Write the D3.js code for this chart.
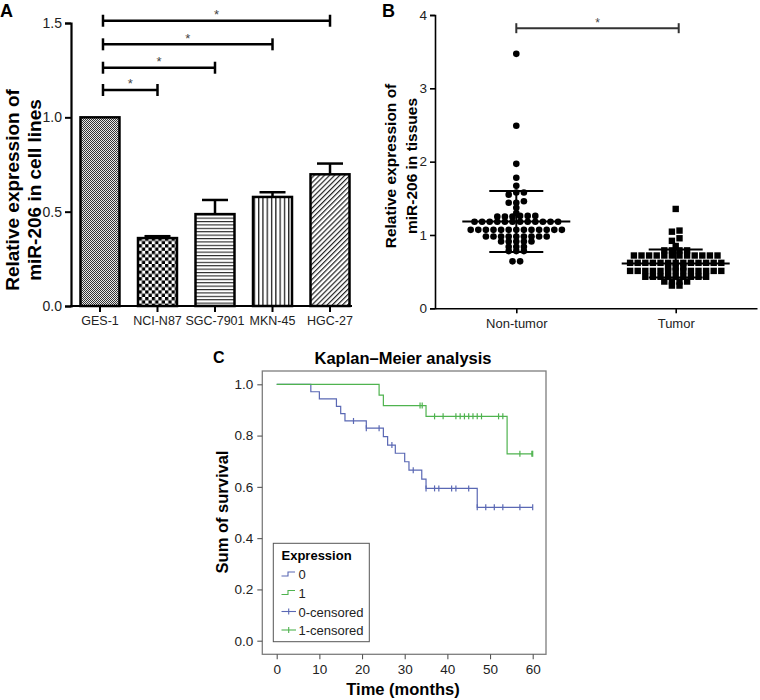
<!DOCTYPE html>
<html>
<head>
<meta charset="utf-8">
<script src="https://cdn.jsdelivr.net/npm/d3@7"></script>
<style>
  html, body { margin: 0; padding: 0; background: #fff; }
  svg { display: block; font-family: "Liberation Sans", Arial, Helvetica, sans-serif; }
</style>
</head>
<body>
<svg id="chart" width="760" height="700"></svg>
<script>
// ---------------- DATA ----------------
// Panel A
const cellLines = ["GES-1", "NCI-N87", "SGC-7901", "MKN-45", "HGC-27"];
const cellMeans = [1.0, 0.36, 0.487, 0.578, 0.698];
const cellErrors = [0, 0.01, 0.075, 0.025, 0.057];
const sigFrom = ["GES-1", "GES-1", "GES-1", "GES-1"];
const sigTo = ["NCI-N87", "SGC-7901", "MKN-45", "HGC-27"];
const sigLevels = [1.145, 1.263, 1.387, 1.512];
const yTicksA = [0, 0.5, 1.0, 1.5];

// Panel B
const tissueGroups = ["Non-tumor", "Tumor"];
const nonTumorValues = [
  3.47, 2.49, 1.97, 1.78, 1.67, 1.58, 1.58, 1.55, 1.46, 1.44, 1.44, 1.37, 1.30,
  1.26, 1.25, 1.26, 1.25, 1.26, 1.25,
  1.18, 1.18, 1.18, 1.18, 1.18, 1.18, 1.18, 1.18, 1.18, 1.18, 1.18, 1.18,
  1.07, 1.07, 1.07, 1.07, 1.07, 1.07, 1.07, 1.07, 1.07, 1.07, 1.07, 1.07, 1.07,
  0.98, 0.98, 0.98, 0.98, 0.98, 0.98, 0.98, 0.98, 0.98,
  0.91, 0.91, 0.91, 0.91, 0.91,
  0.84, 0.84, 0.84, 0.78, 0.78, 0.78, 0.64, 0.64
];
const tumorValues = [
  1.355, 1.06, 1.045, 0.955, 0.92, 0.85, 0.79, 0.79, 0.79, 0.79,
  0.72, 0.72, 0.72, 0.72, 0.72, 0.72, 0.72, 0.72, 0.72, 0.72, 0.72, 0.72,
  0.62, 0.62, 0.62, 0.62, 0.62, 0.62, 0.62, 0.62, 0.62, 0.62, 0.62, 0.62, 0.62,
  0.56, 0.56, 0.56,
  0.51, 0.51, 0.51, 0.51, 0.51, 0.51, 0.51, 0.51, 0.51, 0.51, 0.51, 0.51, 0.51,
  0.43, 0.43, 0.43, 0.43, 0.43, 0.43, 0.43, 0.43, 0.43,
  0.365, 0.365, 0.365, 0.365, 0.31, 0.31
];
const sigLevelB = 3.82;
const yTicksB = [0, 1, 2, 3, 4];

// Panel C (Kaplan–Meier)
const kmTicksX = [0, 10, 20, 30, 40, 50, 60];
const kmTicksY = [0, 0.2, 0.4, 0.6, 0.8, 1.0];
const kmEnd = 60;
const group0Times = [0, 8, 10, 14, 15, 16, 21, 25, 26, 27.8, 30, 31, 34, 35, 47];
const group0Surv  = [1, 0.971, 0.943, 0.914, 0.886, 0.857, 0.829, 0.796, 0.763, 0.731, 0.698, 0.665, 0.630, 0.594, 0.520];
const group0Censored = [18, 21, 24, 27, 32, 35, 37, 38, 41, 42, 45, 47, 49, 51, 53, 57, 60];
const group1Times = [0, 24, 25, 35, 54];
const group1Surv  = [1, 0.958, 0.917, 0.875, 0.729];
const group1Censored = [33.6, 34.1, 37, 39, 42, 43, 44, 45, 46, 47, 48, 52, 53, 57, 59.8, 60];
const legendTitle = "Expression";
const legendLabels = ["0", "1", "0-censored", "1-censored"];
const kmColors = ["#5a68b4", "#4fb34f"];

// ---------------- DRAW ----------------
const svg = d3.select("#chart");
const FONT = "'Liberation Sans', Arial, Helvetica, sans-serif";

// ---- Patterns for panel A ----
const defs = svg.append("defs");
const p0 = defs.append("pattern").attr("id", "pat0").attr("patternUnits", "userSpaceOnUse")
  .attr("width", 2).attr("height", 2);
p0.append("rect").attr("width", 2).attr("height", 2).attr("fill", "#e8e8e8");
p0.append("rect").attr("width", 1).attr("height", 1).attr("fill", "#333");
p0.append("rect").attr("x", 1).attr("y", 1).attr("width", 1).attr("height", 1).attr("fill", "#333");
const p1 = defs.append("pattern").attr("id", "pat1").attr("patternUnits", "userSpaceOnUse")
  .attr("width", 6.6).attr("height", 6.6);
p1.append("rect").attr("width", 6.6).attr("height", 6.6).attr("fill", "#fff");
p1.append("rect").attr("width", 3.3).attr("height", 3.3).attr("fill", "#000");
p1.append("rect").attr("x", 3.3).attr("y", 3.3).attr("width", 3.3).attr("height", 3.3).attr("fill", "#000");
const p2 = defs.append("pattern").attr("id", "pat2").attr("patternUnits", "userSpaceOnUse")
  .attr("width", 6).attr("height", 3.4);
p2.append("rect").attr("width", 6).attr("height", 3.4).attr("fill", "#fff");
p2.append("rect").attr("y", 0).attr("width", 6).attr("height", 1.1).attr("fill", "#222");
const p3 = defs.append("pattern").attr("id", "pat3").attr("patternUnits", "userSpaceOnUse")
  .attr("width", 4.3).attr("height", 6);
p3.append("rect").attr("width", 4.3).attr("height", 6).attr("fill", "#fff");
p3.append("rect").attr("x", 0).attr("width", 1.3).attr("height", 6).attr("fill", "#222");
const p4 = defs.append("pattern").attr("id", "pat4").attr("patternUnits", "userSpaceOnUse")
  .attr("width", 3.6).attr("height", 6).attr("patternTransform", "rotate(45)");
p4.append("rect").attr("width", 3.6).attr("height", 6).attr("fill", "#fff");
p4.append("rect").attr("x", 0).attr("width", 1.2).attr("height", 6).attr("fill", "#222");

// ================= PANEL A =================
const gA = svg.append("g");
const xA = d3.scaleBand().domain(cellLines).range([71, 359]).paddingInner(0.322).paddingOuter(0.165);
const yA = d3.scaleLinear().domain([0, 1.5]).range([306, 23]);

gA.append("text").attr("x", 0).attr("y", 17).attr("font-size", 18).attr("font-weight", "bold")
  .attr("font-family", FONT).text("A");

const barData = cellLines.map((c, i) => ({ c, v: cellMeans[i], e: cellErrors[i], i }));
gA.selectAll(".err").data(barData.filter(d => d.e > 0)).join("g").each(function (d) {
  const g = d3.select(this);
  const cx = xA(d.c) + xA.bandwidth() / 2;
  g.append("line").attr("x1", cx).attr("x2", cx).attr("y1", yA(d.v)).attr("y2", yA(d.v + d.e))
    .attr("stroke", "#000").attr("stroke-width", 2.5);
  g.append("line").attr("x1", cx - 13).attr("x2", cx + 13).attr("y1", yA(d.v + d.e)).attr("y2", yA(d.v + d.e))
    .attr("stroke", "#000").attr("stroke-width", 2.5);
});
gA.selectAll(".bar").data(barData).join("rect")
  .attr("x", d => xA(d.c)).attr("width", xA.bandwidth())
  .attr("y", d => yA(d.v)).attr("height", d => yA(0) - yA(d.v))
  .attr("fill", d => `url(#pat${d.i})`).attr("stroke", "#000").attr("stroke-width", 2.5);

const axisYA = d3.axisLeft(yA).tickValues(yTicksA).tickFormat(d3.format(".1f")).tickSize(6).tickPadding(3);
const gyA = gA.append("g").attr("transform", "translate(71,0)").call(axisYA);
gyA.select(".domain").attr("stroke-width", 2.2);
gyA.selectAll(".tick line").attr("stroke-width", 2);
gyA.selectAll("text").attr("font-size", 14).attr("font-family", FONT).attr("fill", "#222");

const axisXA = d3.axisBottom(xA).tickSize(6).tickSizeOuter(0).tickPadding(4);
const gxA = gA.append("g").attr("transform", "translate(0,306)").call(axisXA);
gxA.select(".domain").remove();
gA.append("line").attr("x1", 70).attr("x2", 352).attr("y1", 306).attr("y2", 306)
  .attr("stroke", "#000").attr("stroke-width", 2.2);
gxA.selectAll(".tick line").attr("stroke-width", 2);
gxA.selectAll("text").attr("font-size", 12.5).attr("font-family", FONT).attr("fill", "#222");

const labA = gA.append("text").attr("transform", "translate(22,190) rotate(-90)")
  .attr("text-anchor", "middle").attr("font-size", 19).attr("font-weight", "bold").attr("font-family", FONT);
labA.append("tspan").attr("x", 0).attr("y", -3).text("Relative expression of");
labA.append("tspan").attr("x", 0).attr("y", 19).text("miR-206 in cell lines");

sigTo.forEach((t, i) => {
  const x1 = xA(sigFrom[i]) + xA.bandwidth() / 2 + 3;
  const x2 = xA(t) + xA.bandwidth() / 2;
  const y = yA(sigLevels[i]);
  const g = gA.append("g").attr("stroke", "#000").attr("stroke-width", 2.5);
  g.append("line").attr("x1", x1).attr("x2", x2).attr("y1", y).attr("y2", y);
  g.append("line").attr("x1", x1).attr("x2", x1).attr("y1", y - 6).attr("y2", y + 6);
  g.append("line").attr("x1", x2).attr("x2", x2).attr("y1", y - 6).attr("y2", y + 6);
  gA.append("text").attr("x", (x1 + x2) / 2).attr("y", y - 1.5).attr("text-anchor", "middle")
    .attr("font-size", 13).attr("fill", "#444").attr("font-family", FONT).text("*");
});

// ================= PANEL B =================
const gB = svg.append("g");
const xB = d3.scalePoint().domain(tissueGroups).range([435, 757]).padding(0.51);
const yB = d3.scaleLinear().domain([0, 4]).range([308.3, 15]);

gB.append("text").attr("x", 382).attr("y", 17).attr("font-size", 18).attr("font-weight", "bold")
  .attr("font-family", FONT).text("B");

const axisYB = d3.axisLeft(yB).tickValues(yTicksB).tickFormat(d3.format("d")).tickSize(5).tickPadding(3);
const gyB = gB.append("g").attr("transform", "translate(435,0)").call(axisYB);
gyB.select(".domain").attr("stroke-width", 1.6);
gyB.selectAll(".tick line").attr("stroke-width", 1.6);
gyB.selectAll("text").attr("font-size", 13.5).attr("font-family", FONT).attr("fill", "#222");

const axisXB = d3.axisBottom(xB).tickSize(5).tickSizeOuter(0).tickPadding(5);
const gxB = gB.append("g").attr("transform", "translate(0,308.3)").call(axisXB);
gxB.select(".domain").attr("stroke-width", 1.6);
gxB.selectAll(".tick line").attr("stroke-width", 1.6);
gxB.selectAll("text").attr("font-size", 13).attr("font-family", FONT).attr("fill", "#222");

const labB = gB.append("text").attr("transform", "translate(401,166) rotate(-90)")
  .attr("text-anchor", "middle").attr("font-size", 15.5).attr("font-weight", "bold").attr("font-family", FONT);
labB.append("tspan").attr("x", 0).attr("y", -5).text("Relative expression of");
labB.append("tspan").attr("x", 0).attr("y", 16).text("miR-206 in tissues");

function swarm(values, cx) {
  const sorted = values.slice().sort((a, b) => a - b);
  const rows = [];
  let cur = null;
  sorted.forEach(v => {
    const py = yB(v);
    if (!cur || Math.abs(py - cur.anchor) > 3.5) { cur = { anchor: py, pts: [] }; rows.push(cur); }
    cur.pts.push(v);
  });
  const out = [];
  rows.forEach(r => {
    const n = r.pts.length;
    r.pts.forEach((v, i) => out.push({ x: cx + (i - (n - 1) / 2) * 7.6, y: yB(v), v }));
  });
  return out;
}
const ntPts = swarm(nonTumorValues, xB("Non-tumor"));
const tPts = swarm(tumorValues, xB("Tumor"));
gB.selectAll(".nt").data(ntPts).join("circle").attr("cx", d => d.x).attr("cy", d => d.y).attr("r", 3.3).attr("fill", "#000");
gB.selectAll(".tu").data(tPts).join("rect").attr("x", d => d.x - 3.2).attr("y", d => d.y - 3.2)
  .attr("width", 6.4).attr("height", 6.4).attr("fill", "#000");

[[nonTumorValues, "Non-tumor"], [tumorValues, "Tumor"]].forEach(([vals, grp]) => {
  const m = d3.mean(vals), s = d3.deviation(vals);
  const cx = xB(grp);
  const g = gB.append("g").attr("stroke", "#000").attr("stroke-width", 2);
  g.append("line").attr("x1", cx - 54).attr("x2", cx + 54).attr("y1", yB(m)).attr("y2", yB(m));
  g.append("line").attr("x1", cx - 27).attr("x2", cx + 27).attr("y1", yB(m + s)).attr("y2", yB(m + s));
  g.append("line").attr("x1", cx - 27).attr("x2", cx + 27).attr("y1", yB(m - s)).attr("y2", yB(m - s));
  g.append("line").attr("x1", cx).attr("x2", cx).attr("y1", yB(m - s)).attr("y2", yB(m + s));
});

{
  const x1 = xB("Non-tumor"), x2 = xB("Tumor") + 3, y = yB(sigLevelB);
  const g = gB.append("g").attr("stroke", "#333").attr("stroke-width", 2);
  g.append("line").attr("x1", x1).attr("x2", x2).attr("y1", y).attr("y2", y);
  g.append("line").attr("x1", x1).attr("x2", x1).attr("y1", y - 5).attr("y2", y + 5);
  g.append("line").attr("x1", x2).attr("x2", x2).attr("y1", y - 5).attr("y2", y + 5);
  gB.append("text").attr("x", (x1 + x2) / 2).attr("y", y - 1).attr("text-anchor", "middle")
    .attr("font-size", 12).attr("fill", "#444").attr("font-family", FONT).text("*");
}

// ================= PANEL C =================
const gC = svg.append("g");
const xC = d3.scaleLinear().domain([0, 60]).range([276.7, 532.7]);
const yC = d3.scaleLinear().domain([0, 1]).range([640.7, 384.3]);
const frame = { x0: 262.3, x1: 546, y0: 371, y1: 654.3 };

gC.append("text").attr("x", 213).attr("y", 363).attr("font-size", 16).attr("font-weight", "bold")
  .attr("font-family", FONT).text("C");
gC.append("text").attr("x", 403).attr("y", 364).attr("text-anchor", "middle").attr("font-size", 16.5)
  .attr("font-weight", "bold").attr("font-family", FONT).text("Kaplan–Meier analysis");

gC.append("rect").attr("x", frame.x0).attr("y", frame.y0).attr("width", frame.x1 - frame.x0)
  .attr("height", frame.y1 - frame.y0).attr("fill", "none").attr("stroke", "#7d7d7d").attr("stroke-width", 1.3);

const axisYC = d3.axisLeft(yC).tickValues(kmTicksY).tickFormat(d3.format(".1f")).tickSize(5).tickPadding(4);
const gyC = gC.append("g").attr("transform", `translate(${frame.x0},0)`).call(axisYC);
gyC.select(".domain").remove();
gyC.selectAll(".tick line").attr("stroke", "#555").attr("stroke-width", 1.1);
gyC.selectAll("text").attr("font-size", 13.5).attr("font-family", FONT).attr("fill", "#222");

const axisXC = d3.axisBottom(xC).tickValues(kmTicksX).tickFormat(d3.format("d")).tickSize(5).tickPadding(5);
const gxC = gC.append("g").attr("transform", `translate(0,${frame.y1})`).call(axisXC);
gxC.select(".domain").remove();
gxC.selectAll(".tick line").attr("stroke", "#555").attr("stroke-width", 1.1);
gxC.selectAll("text").attr("font-size", 13.5).attr("font-family", FONT).attr("fill", "#222");

gC.append("text").attr("x", 403).attr("y", 695).attr("text-anchor", "middle").attr("font-size", 16.5)
  .attr("font-weight", "bold").attr("font-family", FONT).text("Time (months)");
gC.append("text").attr("transform", "translate(228,512) rotate(-90)").attr("text-anchor", "middle")
  .attr("font-size", 16.5).attr("font-weight", "bold").attr("font-family", FONT).text("Sum of survival");

const stepLine = d3.line().x(d => xC(d[0])).y(d => yC(d[1])).curve(d3.curveStepAfter);
function survAt(times, surv, t) {
  let s = surv[0];
  times.forEach((tt, i) => { if (tt <= t + 1e-9) s = surv[i]; });
  return s;
}
const groups = [
  { times: group0Times, surv: group0Surv, cens: group0Censored, color: kmColors[0] },
  { times: group1Times, surv: group1Surv, cens: group1Censored, color: kmColors[1] }
];
groups.forEach(g => {
  const pts = g.times.map((t, i) => [t, g.surv[i]]);
  pts.push([kmEnd, g.surv[g.surv.length - 1]]);
  gC.append("path").attr("d", stepLine(pts)).attr("fill", "none").attr("stroke", g.color).attr("stroke-width", 1.2);
  gC.selectAll(null).data(g.cens).join("line")
    .attr("x1", d => xC(d)).attr("x2", d => xC(d))
    .attr("y1", d => yC(survAt(g.times, g.surv, d)) - 3).attr("y2", d => yC(survAt(g.times, g.surv, d)) + 3)
    .attr("stroke", g.color).attr("stroke-width", 1.2);
});

const leg = gC.append("g");
leg.append("rect").attr("x", 273.3).attr("y", 543.3).attr("width", 96).attr("height", 98.4)
  .attr("fill", "#fff").attr("stroke", "#555").attr("stroke-width", 1);
leg.append("text").attr("x", 281.5).attr("y", 560).attr("font-size", 13).attr("font-weight", "bold")
  .attr("font-family", FONT).text(legendTitle);
const legBase = [579, 597.5, 616.5, 635];
legendLabels.forEach((lab, i) => {
  const col = kmColors[i % 2];
  const cy = legBase[i] - 5;
  if (i < 2) {
    leg.append("path").attr("d", `M281.5,${cy + 2}H288V${cy - 2}H295`).attr("fill", "none")
      .attr("stroke", col).attr("stroke-width", 1.1);
  } else {
    leg.append("line").attr("x1", 281.5).attr("x2", 296).attr("y1", cy).attr("y2", cy).attr("stroke", col).attr("stroke-width", 1.1);
    leg.append("line").attr("x1", 288.7).attr("x2", 288.7).attr("y1", cy - 3).attr("y2", cy + 3).attr("stroke", col).attr("stroke-width", 1.1);
  }
  leg.append("text").attr("x", 298.5).attr("y", legBase[i]).attr("font-size", 13).attr("font-family", FONT)
    .attr("fill", "#222").text(lab);
});
</script>
</body>
</html>
